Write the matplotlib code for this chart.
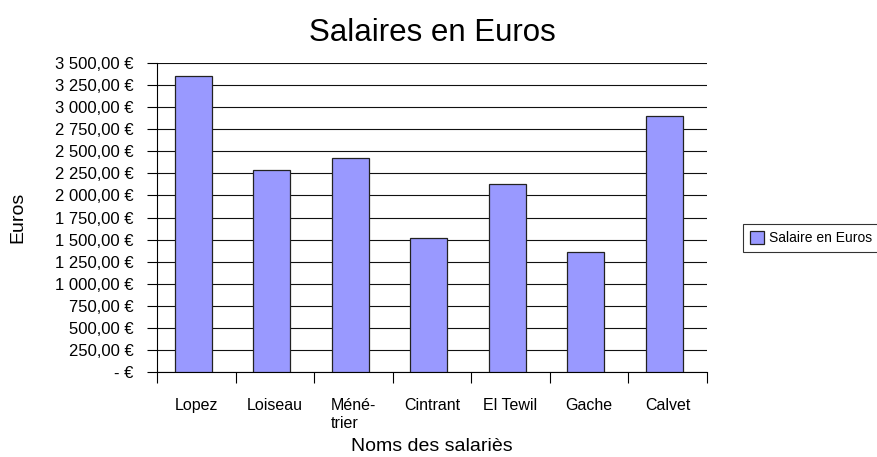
import matplotlib.pyplot as plt
from matplotlib.ticker import FuncFormatter, MultipleLocator, FixedLocator
import numpy as np

plt.rcParams['font.family'] = ['Liberation Sans', 'DejaVu Sans']

noms = ["Lopez", "Loiseau", "Méné-\ntrier", "Cintrant", "El Tewil", "Gache", "Calvet"]
salaires = [3350, 2290, 2430, 1520, 2130, 1360, 2900]


def euros(v, pos):
    if v == 0:
        return "- €"
    s = f"{v:,.2f}".replace(",", " ").replace(".", ",")
    return s + " €"


fig = plt.figure(figsize=(8.77, 4.57), dpi=100)
ax = fig.add_axes([0.179, 0.186, 0.627, 0.676])

x = np.arange(len(noms))
ax.bar(x - 0.04, salaires, width=0.47, color="#9999FF", edgecolor="#222222",
       linewidth=0.9, label="Salaire en Euros", zorder=3)

ax.set_xlim(-0.5, len(noms) - 0.5)
ax.set_ylim(0, 3500)
ax.yaxis.set_major_locator(MultipleLocator(250))
ax.yaxis.set_major_formatter(FuncFormatter(euros))
ax.grid(axis="y", color="#111111", linewidth=0.8, zorder=0)

ax.xaxis.set_major_locator(FixedLocator(np.arange(-0.5, len(noms), 1.0)))
ax.xaxis.set_major_formatter(FuncFormatter(lambda v, p: ""))
ax.xaxis.set_minor_locator(FixedLocator(x))
ax.set_xticklabels(noms, minor=True, fontsize=11.5, va="top", multialignment="left")
ax.tick_params(axis="x", which="minor", length=0, pad=19)
ax.tick_params(axis="x", which="major", length=8, width=0.8)
ax.tick_params(axis="y", length=7, width=0.8, labelsize=12, pad=10)

for s in ["top", "right"]:
    ax.spines[s].set_visible(False)
ax.spines["left"].set_linewidth(0.8)
ax.spines["bottom"].set_linewidth(0.8)

ax.set_title("Salaires en Euros", fontsize=22.5, pad=16)
ax.set_xlabel("Noms des salariès", fontsize=14, labelpad=5)
ax.set_ylabel("Euros", fontsize=14, labelpad=20)

leg = fig.legend(loc="center left", bbox_to_anchor=(0.847, 0.479), fontsize=10,
                 frameon=True, fancybox=False, handlelength=1.0, handleheight=1.0,
                 borderpad=0.5, handletextpad=0.4, borderaxespad=0)
leg.get_frame().set_edgecolor("black")
leg.get_frame().set_linewidth(0.8)

fig.savefig("out.png", dpi=100)
